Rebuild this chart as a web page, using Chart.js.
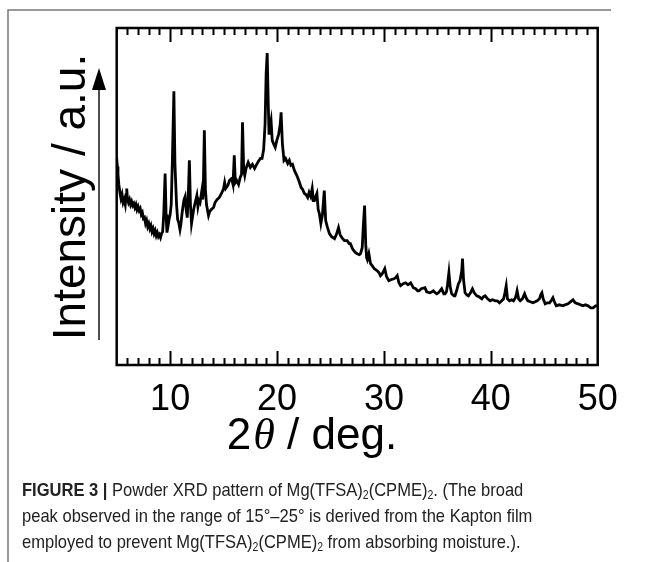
<!DOCTYPE html>
<html>
<head>
<meta charset="utf-8">
<script src="https://cdn.jsdelivr.net/npm/chart.js"></script>
<style>
  body { margin: 0; background: #fff; }
  #wrap { position: relative; width: 654px; height: 562px; overflow: hidden; }
  #c { position: absolute; left: 0; top: 0; }
  #cap {
    position: absolute; left: 22px; top: 477px; width: 720px;
    font-family: 'Liberation Sans', Arial, sans-serif;
    font-size: 19px; line-height: 26px; color: #222; white-space: nowrap;
    transform: scaleX(0.87); transform-origin: 0 0;
  }
  #cap sub { font-size: 12px; vertical-align: -3px; line-height: 0; }
</style>
</head>
<body>
<div id="wrap">
  <canvas id="c" width="654" height="562"></canvas>
  <div id="cap"><b>FIGURE 3 |</b> Powder XRD pattern of Mg(TFSA)<sub>2</sub>(CPME)<sub>2</sub>. (The broad<br>peak observed in the range of 15°–25° is derived from the Kapton film<br>employed to prevent Mg(TFSA)<sub>2</sub>(CPME)<sub>2</sub> from absorbing moisture.).</div>
</div>
<script>
// 2theta (deg) and intensity (a.u.)
var twoTheta = [
  5.00, 5.06, 5.12, 5.20, 5.30, 5.40, 5.50, 5.60, 5.70, 5.80, 5.88, 5.94,
  6.00, 6.10, 6.20, 6.30, 6.40, 6.50, 6.60, 6.70, 6.80, 6.90, 7.00, 7.10,
  7.20, 7.30, 7.40, 7.50, 7.60, 7.70, 7.80, 7.90, 8.00, 8.10, 8.20, 8.30,
  8.40, 8.50, 8.60, 8.70, 8.80, 8.90, 9.00, 9.10, 9.20, 9.30, 9.40, 9.53,
  9.62, 9.70, 9.80, 9.90, 10.00, 10.10, 10.20, 10.35, 10.45, 10.60, 10.70, 10.80,
  10.92, 11.00, 11.10, 11.20, 11.30, 11.40, 11.50, 11.60, 11.70, 11.80, 11.90, 12.00,
  12.10, 12.20, 12.30, 12.50, 12.60, 12.70, 12.80, 12.97, 13.05, 13.10, 13.20, 13.30,
  13.40, 13.59, 13.70, 13.85, 14.06, 14.20, 14.40, 14.60, 14.80, 15.00, 15.10, 15.20,
  15.40, 15.55, 15.75, 15.88, 16.00, 16.10, 16.22, 16.40, 16.55, 16.68, 16.77, 16.88,
  16.98, 17.10, 17.30, 17.50, 17.70, 17.90, 18.05, 18.25, 18.45, 18.60, 18.75, 18.88,
  18.98, 19.08, 19.18, 19.25, 19.30, 19.44, 19.55, 19.70, 19.83, 19.98, 20.15, 20.30,
  20.38, 20.50, 20.65, 20.80, 21.00, 21.15, 21.30, 21.45, 21.62, 21.80, 21.93, 22.10,
  22.25, 22.40, 22.56, 22.70, 22.87, 23.00, 23.15, 23.29, 23.40, 23.50, 23.62, 23.73,
  23.85, 23.96, 24.10, 24.25, 24.42, 24.55, 24.70, 24.90, 25.10, 25.38, 25.55, 25.75,
  25.90, 26.07, 26.30, 26.56, 26.75, 26.87, 27.05, 27.18, 27.35, 27.50, 27.70, 27.81,
  27.97, 28.08, 28.19, 28.30, 28.38, 28.45, 28.59, 28.75, 28.90, 29.10, 29.37, 29.55,
  29.68, 29.85, 30.08, 30.25, 30.46, 30.65, 30.93, 31.10, 31.25, 31.40, 31.56, 31.80,
  32.03, 32.25, 32.50, 32.75, 32.97, 33.15, 33.28, 33.50, 33.84, 34.00, 34.30, 34.50,
  34.62, 34.80, 34.94, 35.10, 35.40, 35.60, 35.71, 35.85, 35.95, 36.08, 36.20, 36.34,
  36.55, 36.65, 36.80, 36.97, 37.12, 37.28, 37.35, 37.45, 37.59, 37.75, 37.91, 38.10,
  38.28, 38.45, 38.69, 38.90, 39.16, 39.30, 39.47, 39.70, 39.94, 40.15, 40.41, 40.60,
  40.81, 41.02, 41.20, 41.32, 41.44, 41.56, 41.75, 41.95, 42.12, 42.30, 42.40, 42.46,
  42.60, 42.75, 42.95, 43.16, 43.30, 43.47, 43.70, 43.94, 44.15, 44.34, 44.55, 44.67,
  44.78, 44.90, 45.09, 45.30, 45.50, 45.70, 45.81, 45.95, 46.12, 46.40, 46.75, 46.95,
  47.22, 47.45, 47.69, 47.90, 48.16, 48.40, 48.63, 48.85, 49.10, 49.35, 49.57, 49.80,
  50.00
];
var intensity = [
  194, 198, 190, 180, 172, 166, 170, 162, 165, 160, 170, 176,
  166, 162, 165, 160, 163, 159, 161, 157, 160, 155, 158, 154,
  156, 150, 152, 146, 147, 141, 144, 138, 141, 136, 139, 133,
  136, 131, 134, 129, 132, 128, 130, 127, 131, 133, 150, 191,
  150, 132, 138, 145, 150, 160, 200, 273, 200, 160, 145, 142,
  135, 140, 150, 158, 165, 168, 155, 147, 170, 204, 160, 141,
  148, 155, 160, 169, 158, 164, 162, 174, 165, 175, 234, 175,
  160, 149, 153, 155, 157, 162, 165, 167, 171, 176, 182, 176,
  179, 184, 186, 180, 209, 182, 184, 180, 187, 190, 242, 195,
  189, 196, 202, 197, 200, 196, 199, 203, 206, 206, 215, 240,
  290, 311, 260, 231, 236, 244, 224, 220, 217, 224, 230, 240,
  252, 221, 204, 206, 201, 204, 199, 200, 194, 190, 187, 182,
  177, 175, 171, 170, 167, 172, 168, 176, 164, 164, 168, 171,
  155, 151, 141, 150, 174, 144, 138, 131, 128, 126, 130, 137,
  130, 127, 124, 124, 121, 121, 116, 114, 112, 111, 110, 111,
  117, 140, 159, 120, 107, 105, 111, 101, 99, 96, 94, 92,
  89, 91, 96, 88, 84, 85, 86, 87, 89, 82, 79, 81,
  82, 80, 82, 77, 76, 74, 74, 76, 77, 73, 72, 73,
  74, 72, 71, 72, 76, 71, 71, 73, 80, 92, 78, 71,
  69, 69, 74, 81, 84, 94, 106, 85, 72, 70, 69, 72,
  76, 72, 69, 68, 66, 68, 69, 66, 64, 65, 64, 64,
  62, 64, 66, 72, 79, 66, 64, 65, 64, 67, 71, 74,
  66, 64, 66, 71, 67, 64, 63, 62, 63, 64, 66, 70,
  72, 66, 61, 62, 62, 65, 67, 63, 59, 60, 59, 60,
  61, 63, 65, 62, 61, 60, 59, 60, 59, 57, 57, 59,
  59
];
var xMin = 5, xMax = 50;
var majorTicks = [10, 20, 30, 40, 50];

var points = twoTheta.map(function (t, i) { return { x: t, y: intensity[i] }; });

// box, inward ticks, axis titles, arrow, figure frame
var decor = {
  id: 'decor',
  afterDraw: function (chart) {
    var ctx = chart.ctx, a = chart.chartArea, xs = chart.scales.x;
    ctx.save();
    ctx.strokeStyle = '#000';
    ctx.lineWidth = 2.5;
    ctx.strokeRect(a.left, a.top, a.right - a.left, a.bottom - a.top);
    ctx.lineWidth = 2;
    for (var v = xMin + 1; v < xMax; v++) {
      var px = Math.round(xs.getPixelForValue(v)) + 0.5;
      var len = (v % 10 === 0) ? 14 : 7;
      ctx.beginPath();
      ctx.moveTo(px, a.bottom); ctx.lineTo(px, a.bottom - len);
      ctx.moveTo(px, a.top); ctx.lineTo(px, a.top + len);
      ctx.stroke();
    }

    // x title: 2θ / deg.
    var f1 = '44px "Liberation Sans", Arial, sans-serif';
    var f2 = 'italic 44px "Liberation Serif", "Times New Roman", serif';
    ctx.fillStyle = '#000';
    ctx.textBaseline = 'alphabetic';
    ctx.font = f1; var w1 = ctx.measureText('2').width;
    ctx.font = f2; var w2 = ctx.measureText('\u03b8').width;
    ctx.font = f1; var w3 = ctx.measureText(' / deg.').width;
    var x0 = 311 - (w1 + w2 + w3) / 2, yb = 449;
    ctx.font = f1; ctx.fillText('2', x0, yb);
    ctx.font = f2; ctx.fillText('\u03b8', x0 + w1 + 2, yb);
    ctx.font = f1; ctx.fillText(' / deg.', x0 + w1 + w2 + 2, yb);

    // y title
    ctx.save();
    ctx.translate(85, 197);
    ctx.rotate(-Math.PI / 2);
    ctx.font = '46px "Liberation Sans", Arial, sans-serif';
    ctx.textAlign = 'center';
    ctx.fillText('Intensity / a.u.', 0, 0);
    ctx.restore();

    // arrow
    ctx.strokeStyle = '#111';
    ctx.lineWidth = 1.5;
    ctx.beginPath(); ctx.moveTo(99, 340); ctx.lineTo(99, 85); ctx.stroke();
    ctx.fillStyle = '#000';
    ctx.beginPath(); ctx.moveTo(99, 68); ctx.lineTo(92, 90); ctx.lineTo(106, 90); ctx.closePath(); ctx.fill();

    // figure frame
    ctx.strokeStyle = '#777';
    ctx.lineWidth = 1.5;
    ctx.beginPath(); ctx.moveTo(8, 562); ctx.lineTo(8, 10); ctx.lineTo(611, 10); ctx.stroke();
    ctx.restore();
  }
};

new Chart(document.getElementById('c'), {
  type: 'line',
  data: {
    datasets: [{
      data: points,
      borderColor: '#000',
      borderWidth: 2.8,
      pointRadius: 0,
      tension: 0,
      fill: false
    }]
  },
  options: {
    responsive: false,
    animation: false,
    layout: { padding: { top: 28, left: 116.7, right: 56.3, bottom: 127.8 } },
    plugins: { legend: { display: false }, tooltip: { enabled: false } },
    scales: {
      x: {
        type: 'linear', min: xMin, max: xMax,
        afterBuildTicks: function (s) { s.ticks = majorTicks.map(function (v) { return { value: v }; }); },
        grid: { display: false, drawTicks: false },
        border: { display: false },
        ticks: { padding: 13, color: '#000', font: { size: 36, family: '"Liberation Sans", Arial, sans-serif' }, maxRotation: 0, autoSkip: false }
      },
      y: { display: false, min: 0, max: 336 }
    }
  },
  plugins: [decor]
});
</script>
</body>
</html>
